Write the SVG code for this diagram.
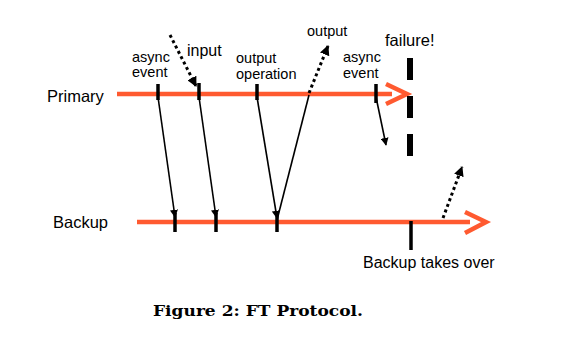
<svg xmlns="http://www.w3.org/2000/svg" width="564" height="339" viewBox="0 0 564 339">
<defs>
<style>
.lbl{font-family:"Liberation Sans",Arial,sans-serif;font-size:14.5px;fill:#000}
.big{font-family:"Liberation Sans",Arial,sans-serif;font-size:16.5px;fill:#000}
.cap{font-family:"DejaVu Serif","Liberation Serif",serif;font-size:15px;font-weight:bold;fill:#000}
.time{stroke:#ff5a30;stroke-width:4.5;fill:none}
.chev{stroke:#ff5a30;stroke-width:4.5;fill:none;stroke-linejoin:miter}
.tick{stroke:#000;stroke-width:3.5}
.msg{stroke:#000;stroke-width:1.6;fill:none}
.dot{stroke:#000;stroke-width:3;stroke-dasharray:3 3;fill:none}
</style>
<marker id="ah" viewBox="0 0 10 10" refX="9" refY="5" markerWidth="8" markerHeight="8" markerUnits="userSpaceOnUse" orient="auto">
<path d="M0,0 L10,5 L0,10 z" fill="#000"/>
</marker>
<marker id="ahb" viewBox="0 0 10 10" refX="9" refY="5" markerWidth="10" markerHeight="10" markerUnits="userSpaceOnUse" orient="auto">
<path d="M0,0 L10,5 L0,10 z" fill="#000"/>
</marker>
</defs>
<rect width="564" height="339" fill="#fff"/>

<g id="primary">
<line class="time" x1="117" y1="94" x2="392" y2="94"/>
<polyline class="chev" points="386,84 407,94 386,104"/>
<text class="big" x="47" y="102">Primary</text>
<line class="tick" x1="158" y1="84" x2="158" y2="100"/>
<line class="tick" x1="199" y1="83" x2="199" y2="100"/>
<line class="tick" x1="257" y1="84" x2="257" y2="100"/>
<line class="tick" x1="376" y1="84" x2="376" y2="103"/>
</g>

<g id="backup">
<line class="time" x1="137" y1="222" x2="470" y2="222"/>
<polyline class="chev" points="465,212 486,222 465,233"/>
<text class="big" x="53" y="228">Backup</text>
<line class="tick" x1="175" y1="213" x2="175" y2="232"/>
<line class="tick" x1="216" y1="213" x2="216" y2="232"/>
<line class="tick" x1="277" y1="213" x2="277" y2="232"/>
<line class="tick" x1="411" y1="221" x2="411" y2="250"/>
</g>

<g id="failure">
<line x1="410" y1="58" x2="410" y2="156" stroke="#000" stroke-width="6" stroke-dasharray="22 16"/>
<text class="big" x="385" y="46">failure!</text>
</g>

<g id="labels">
<text class="lbl" x="132" y="62">async</text>
<text class="lbl" x="132" y="77">event</text>
<text class="lbl" x="187" y="56" style="font-size:16px">input</text>
<text class="lbl" x="236" y="63">output</text>
<text class="lbl" x="236" y="79">operation</text>
<text class="lbl" x="307" y="36">output</text>
<text class="lbl" x="343" y="62">async</text>
<text class="lbl" x="343" y="78">event</text>
<text class="big" x="363" y="268" style="font-size:16px">Backup takes over</text>
</g>

<g id="connectors">
<line class="msg" x1="158" y1="97" x2="175" y2="217" marker-end="url(#ah)"/>
<line class="msg" x1="199" y1="97" x2="216" y2="217" marker-end="url(#ah)"/>
<line class="msg" x1="257" y1="97" x2="277" y2="218" marker-end="url(#ah)"/>
<line class="msg" x1="277" y1="220" x2="309" y2="95"/>
<line class="dot" x1="309" y1="93" x2="328" y2="46" marker-end="url(#ahb)"/>
<line class="dot" x1="170" y1="35" x2="196" y2="86" marker-end="url(#ahb)"/>
<line class="msg" x1="376" y1="97" x2="386" y2="145" marker-end="url(#ah)"/>
<line class="dot" x1="443" y1="218" x2="462" y2="167" marker-end="url(#ahb)"/>
</g>

<text class="cap" x="153" y="316" textLength="210" lengthAdjust="spacingAndGlyphs">Figure 2: FT Protocol.</text>
</svg>
